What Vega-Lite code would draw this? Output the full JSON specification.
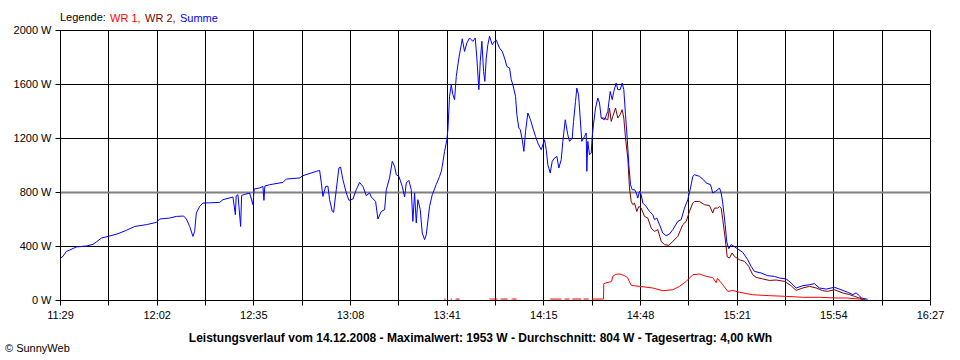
{
 "$schema": "https://vega.github.io/schema/vega-lite/v6.json",
 "width": 870, "height": 270,
 "autosize": {"type": "none"},
 "padding": {"left": 60, "top": 30, "right": 30, "bottom": 60},
 "background": "white",
 "config": {"view": {"stroke": "black", "strokeWidth": 1}, "font": "Liberation Sans"},
 "title": {"text": "© SunnyWeb", "orient": "bottom", "anchor": "start", "frame": "group", "dx": -55, "offset": 0, "fontSize": 11, "fontWeight": "normal", "color": "black", "font": "Liberation Sans"},
 "datasets": {
  "summe": [
   {"t":"2008-12-14T11:29:14","w":311},{"t":"2008-12-14T11:30:02","w":324},{"t":"2008-12-14T11:31:11","w":360},{"t":"2008-12-14T11:32:19","w":370},
   {"t":"2008-12-14T11:34:37","w":393},{"t":"2008-12-14T11:38:02","w":400},{"t":"2008-12-14T11:40:18","w":412},{"t":"2008-12-14T11:41:28","w":430},
   {"t":"2008-12-14T11:43:11","w":459},{"t":"2008-12-14T11:45:26","w":471},{"t":"2008-12-14T11:48:52","w":491},{"t":"2008-12-14T11:51:44","w":516},
   {"t":"2008-12-14T11:54:35","w":545},{"t":"2008-12-14T11:58:35","w":558},{"t":"2008-12-14T12:02:01","w":575},{"t":"2008-12-14T12:03:08","w":600},
   {"t":"2008-12-14T12:06:34","w":607},{"t":"2008-12-14T12:08:51","w":619},{"t":"2008-12-14T12:11:21","w":622},{"t":"2008-12-14T12:12:17","w":600},
   {"t":"2008-12-14T12:13:25","w":545},{"t":"2008-12-14T12:14:32","w":471},{"t":"2008-12-14T12:15:07","w":508},{"t":"2008-12-14T12:15:42","w":644},
   {"t":"2008-12-14T12:16:50","w":693},{"t":"2008-12-14T12:17:58","w":718},{"t":"2008-12-14T12:20:15","w":720},{"t":"2008-12-14T12:23:41","w":723},
   {"t":"2008-12-14T12:24:49","w":743},{"t":"2008-12-14T12:28:14","w":763},{"t":"2008-12-14T12:29:04","w":632},{"t":"2008-12-14T12:29:20","w":770},
   {"t":"2008-12-14T12:29:57","w":780},{"t":"2008-12-14T12:30:52","w":545},{"t":"2008-12-14T12:31:13","w":775},{"t":"2008-12-14T12:32:14","w":782},
   {"t":"2008-12-14T12:33:58","w":792},{"t":"2008-12-14T12:35:05","w":706},{"t":"2008-12-14T12:35:30","w":822},{"t":"2008-12-14T12:37:23","w":830},
   {"t":"2008-12-14T12:38:31","w":841},{"t":"2008-12-14T12:38:51","w":738},{"t":"2008-12-14T12:39:11","w":845},{"t":"2008-12-14T12:40:48","w":854},
   {"t":"2008-12-14T12:45:22","w":871},{"t":"2008-12-14T12:46:31","w":896},{"t":"2008-12-14T12:51:05","w":904},{"t":"2008-12-14T12:52:13","w":921},
   {"t":"2008-12-14T12:56:47","w":953},{"t":"2008-12-14T12:57:56","w":960},{"t":"2008-12-14T12:58:31","w":867},{"t":"2008-12-14T12:59:03","w":767},
   {"t":"2008-12-14T12:59:59","w":841},{"t":"2008-12-14T13:00:46","w":843},{"t":"2008-12-14T13:01:21","w":743},{"t":"2008-12-14T13:02:16","w":656},
   {"t":"2008-12-14T13:02:43","w":649},{"t":"2008-12-14T13:03:38","w":817},{"t":"2008-12-14T13:04:32","w":978},{"t":"2008-12-14T13:05:07","w":985},
   {"t":"2008-12-14T13:05:54","w":891},{"t":"2008-12-14T13:07:04","w":793},{"t":"2008-12-14T13:07:58","w":738},{"t":"2008-12-14T13:09:20","w":748},
   {"t":"2008-12-14T13:10:29","w":817},{"t":"2008-12-14T13:11:37","w":871},{"t":"2008-12-14T13:12:45","w":841},{"t":"2008-12-14T13:13:55","w":773},
   {"t":"2008-12-14T13:15:02","w":793},{"t":"2008-12-14T13:15:38","w":763},{"t":"2008-12-14T13:17:06","w":730},{"t":"2008-12-14T13:17:53","w":600},
   {"t":"2008-12-14T13:19:03","w":656},{"t":"2008-12-14T13:20:11","w":669},{"t":"2008-12-14T13:20:46","w":817},{"t":"2008-12-14T13:21:53","w":904},
   {"t":"2008-12-14T13:22:49","w":1027},{"t":"2008-12-14T13:23:37","w":990},{"t":"2008-12-14T13:24:11","w":928},{"t":"2008-12-14T13:25:05","w":916},
   {"t":"2008-12-14T13:26:14","w":841},{"t":"2008-12-14T13:27:02","w":763},{"t":"2008-12-14T13:27:37","w":867},{"t":"2008-12-14T13:28:30","w":886},
   {"t":"2008-12-14T13:29:19","w":817},{"t":"2008-12-14T13:29:52","w":582},{"t":"2008-12-14T13:30:27","w":793},{"t":"2008-12-14T13:31:02","w":570},
   {"t":"2008-12-14T13:31:35","w":743},{"t":"2008-12-14T13:32:24","w":669},{"t":"2008-12-14T13:33:05","w":496},{"t":"2008-12-14T13:33:53","w":447},
   {"t":"2008-12-14T13:34:28","w":484},{"t":"2008-12-14T13:35:35","w":693},{"t":"2008-12-14T13:36:31","w":780},{"t":"2008-12-14T13:37:53","w":856},
   {"t":"2008-12-14T13:39:01","w":916},{"t":"2008-12-14T13:39:36","w":953},{"t":"2008-12-14T13:39:56","w":990},{"t":"2008-12-14T13:40:44","w":1101},
   {"t":"2008-12-14T13:41:31","w":1187},{"t":"2008-12-14T13:41:52","w":1261},{"t":"2008-12-14T13:42:26","w":1508},{"t":"2008-12-14T13:43:01","w":1595},
   {"t":"2008-12-14T13:43:34","w":1521},{"t":"2008-12-14T13:44:09","w":1484},{"t":"2008-12-14T13:44:44","w":1656},{"t":"2008-12-14T13:45:37","w":1792},
   {"t":"2008-12-14T13:46:27","w":1891},{"t":"2008-12-14T13:46:47","w":1935},{"t":"2008-12-14T13:47:34","w":1841},{"t":"2008-12-14T13:48:22","w":1904},
   {"t":"2008-12-14T13:49:17","w":1941},{"t":"2008-12-14T13:50:25","w":1916},{"t":"2008-12-14T13:51:14","w":1941},{"t":"2008-12-14T13:51:47","w":1792},
   {"t":"2008-12-14T13:52:28","w":1558},{"t":"2008-12-14T13:52:57","w":1767},{"t":"2008-12-14T13:53:30","w":1916},{"t":"2008-12-14T13:54:05","w":1693},
   {"t":"2008-12-14T13:54:31","w":1619},{"t":"2008-12-14T13:55:00","w":1792},{"t":"2008-12-14T13:55:33","w":1891},{"t":"2008-12-14T13:56:08","w":1953},
   {"t":"2008-12-14T13:57:04","w":1891},{"t":"2008-12-14T13:57:51","w":1916},{"t":"2008-12-14T13:58:26","w":1925},{"t":"2008-12-14T13:59:34","w":1866},
   {"t":"2008-12-14T14:00:29","w":1841},{"t":"2008-12-14T14:01:16","w":1792},{"t":"2008-12-14T14:02:04","w":1730},{"t":"2008-12-14T14:02:59","w":1718},
   {"t":"2008-12-14T14:03:34","w":1632},{"t":"2008-12-14T14:04:07","w":1595},{"t":"2008-12-14T14:05:02","w":1508},{"t":"2008-12-14T14:05:29","w":1373},
   {"t":"2008-12-14T14:06:10","w":1274},{"t":"2008-12-14T14:06:39","w":1261},{"t":"2008-12-14T14:07:20","w":1187},{"t":"2008-12-14T14:07:53","w":1101},
   {"t":"2008-12-14T14:08:28","w":1249},{"t":"2008-12-14T14:09:15","w":1385},{"t":"2008-12-14T14:10:10","w":1335},{"t":"2008-12-14T14:10:58","w":1274},
   {"t":"2008-12-14T14:11:53","w":1212},{"t":"2008-12-14T14:12:40","w":1163},{"t":"2008-12-14T14:13:50","w":1113},{"t":"2008-12-14T14:14:58","w":1187},
   {"t":"2008-12-14T14:15:33","w":1113},{"t":"2008-12-14T14:16:06","w":1002},{"t":"2008-12-14T14:16:55","w":941},{"t":"2008-12-14T14:17:36","w":1027},
   {"t":"2008-12-14T14:18:23","w":1052},{"t":"2008-12-14T14:19:11","w":1064},{"t":"2008-12-14T14:19:52","w":978},{"t":"2008-12-14T14:20:41","w":1039},
   {"t":"2008-12-14T14:21:14","w":1175},{"t":"2008-12-14T14:22:04","w":1335},{"t":"2008-12-14T14:22:56","w":1224},{"t":"2008-12-14T14:23:32","w":1175},
   {"t":"2008-12-14T14:24:27","w":1200},{"t":"2008-12-14T14:24:54","w":1323},{"t":"2008-12-14T14:25:35","w":1471},{"t":"2008-12-14T14:26:02","w":1570},
   {"t":"2008-12-14T14:26:37","w":1521},{"t":"2008-12-14T14:27:11","w":1348},{"t":"2008-12-14T14:27:44","w":1175},{"t":"2008-12-14T14:28:40","w":1212},
   {"t":"2008-12-14T14:29:14","w":1237},{"t":"2008-12-14T14:29:27","w":953},{"t":"2008-12-14T14:29:47","w":1175},{"t":"2008-12-14T14:30:22","w":1076},
   {"t":"2008-12-14T14:30:58","w":1089},{"t":"2008-12-14T14:31:18","w":1212},{"t":"2008-12-14T14:31:44","w":1298},{"t":"2008-12-14T14:32:26","w":1422},
   {"t":"2008-12-14T14:33:13","w":1496},{"t":"2008-12-14T14:33:48","w":1459},{"t":"2008-12-14T14:34:23","w":1348},{"t":"2008-12-14T14:35:31","w":1335},
   {"t":"2008-12-14T14:36:38","w":1397},{"t":"2008-12-14T14:37:28","w":1545},{"t":"2008-12-14T14:38:09","w":1484},{"t":"2008-12-14T14:38:42","w":1545},
   {"t":"2008-12-14T14:39:31","w":1607},{"t":"2008-12-14T14:40:04","w":1558},{"t":"2008-12-14T14:40:53","w":1558},{"t":"2008-12-14T14:41:34","w":1607},
   {"t":"2008-12-14T14:42:07","w":1558},{"t":"2008-12-14T14:42:42","w":1373},{"t":"2008-12-14T14:43:17","w":1200},{"t":"2008-12-14T14:43:50","w":1002},
   {"t":"2008-12-14T14:44:25","w":854},{"t":"2008-12-14T14:45:00","w":817},{"t":"2008-12-14T14:45:47","w":817},{"t":"2008-12-14T14:46:22","w":795},
   {"t":"2008-12-14T14:46:55","w":755},{"t":"2008-12-14T14:47:30","w":804},{"t":"2008-12-14T14:48:05","w":780},{"t":"2008-12-14T14:48:38","w":718},
   {"t":"2008-12-14T14:49:47","w":693},{"t":"2008-12-14T14:50:55","w":656},{"t":"2008-12-14T14:52:03","w":632},{"t":"2008-12-14T14:52:38","w":595},
   {"t":"2008-12-14T14:53:25","w":607},{"t":"2008-12-14T14:54:21","w":558},{"t":"2008-12-14T14:55:28","w":496},{"t":"2008-12-14T14:56:38","w":476},
   {"t":"2008-12-14T14:57:46","w":489},{"t":"2008-12-14T14:58:54","w":521},{"t":"2008-12-14T15:00:37","w":582},{"t":"2008-12-14T15:01:46","w":595},
   {"t":"2008-12-14T15:02:54","w":681},{"t":"2008-12-14T15:04:02","w":743},{"t":"2008-12-14T15:04:58","w":830},{"t":"2008-12-14T15:05:45","w":916},
   {"t":"2008-12-14T15:06:20","w":928},{"t":"2008-12-14T15:08:02","w":916},{"t":"2008-12-14T15:09:25","w":891},{"t":"2008-12-14T15:10:20","w":867},
   {"t":"2008-12-14T15:11:49","w":854},{"t":"2008-12-14T15:12:35","w":793},{"t":"2008-12-14T15:13:31","w":804},{"t":"2008-12-14T15:14:19","w":817},
   {"t":"2008-12-14T15:14:53","w":830},{"t":"2008-12-14T15:15:28","w":793},{"t":"2008-12-14T15:16:01","w":718},{"t":"2008-12-14T15:16:50","w":560},
   {"t":"2008-12-14T15:17:23","w":430},{"t":"2008-12-14T15:18:04","w":380},{"t":"2008-12-14T15:18:53","w":410},{"t":"2008-12-14T15:19:41","w":400},
   {"t":"2008-12-14T15:21:09","w":378},{"t":"2008-12-14T15:22:52","w":353},{"t":"2008-12-14T15:24:35","w":298},{"t":"2008-12-14T15:25:44","w":249},
   {"t":"2008-12-14T15:26:52","w":212},{"t":"2008-12-14T15:29:10","w":200},{"t":"2008-12-14T15:31:26","w":180},{"t":"2008-12-14T15:33:43","w":175},
   {"t":"2008-12-14T15:35:26","w":163},{"t":"2008-12-14T15:37:44","w":156},{"t":"2008-12-14T15:39:26","w":126},{"t":"2008-12-14T15:41:09","w":89},
   {"t":"2008-12-14T15:43:25","w":106},{"t":"2008-12-14T15:45:43","w":113},{"t":"2008-12-14T15:47:25","w":121},{"t":"2008-12-14T15:49:08","w":89},
   {"t":"2008-12-14T15:51:25","w":81},{"t":"2008-12-14T15:54:16","w":94},{"t":"2008-12-14T15:56:34","w":76},{"t":"2008-12-14T15:58:49","w":57},
   {"t":"2008-12-14T16:00:32","w":40},{"t":"2008-12-14T16:01:42","w":52},{"t":"2008-12-14T16:02:49","w":32},{"t":"2008-12-14T16:03:25","w":15},
   {"t":"2008-12-14T16:05:40","w":5}
  ],
  "wr2": [
   {"t":"2008-12-14T14:34:23","w":1348},{"t":"2008-12-14T14:35:16","w":1348},{"t":"2008-12-14T14:36:38","w":1335},{"t":"2008-12-14T14:37:13","w":1422},
   {"t":"2008-12-14T14:37:49","w":1323},{"t":"2008-12-14T14:38:21","w":1360},{"t":"2008-12-14T14:39:17","w":1422},{"t":"2008-12-14T14:40:04","w":1348},
   {"t":"2008-12-14T14:40:53","w":1373},{"t":"2008-12-14T14:41:34","w":1410},{"t":"2008-12-14T14:42:07","w":1348},{"t":"2008-12-14T14:42:42","w":1200},
   {"t":"2008-12-14T14:43:29","w":1052},{"t":"2008-12-14T14:44:04","w":830},{"t":"2008-12-14T14:44:39","w":730},{"t":"2008-12-14T14:45:12","w":706},
   {"t":"2008-12-14T14:45:47","w":718},{"t":"2008-12-14T14:46:34","w":656},{"t":"2008-12-14T14:47:16","w":693},{"t":"2008-12-14T14:48:05","w":681},
   {"t":"2008-12-14T14:49:13","w":619},{"t":"2008-12-14T14:50:20","w":607},{"t":"2008-12-14T14:51:30","w":533},{"t":"2008-12-14T14:52:38","w":508},
   {"t":"2008-12-14T14:53:46","w":521},{"t":"2008-12-14T14:54:56","w":434},{"t":"2008-12-14T14:56:04","w":410},{"t":"2008-12-14T14:57:32","w":405},
   {"t":"2008-12-14T14:58:54","w":434},{"t":"2008-12-14T15:00:37","w":471},{"t":"2008-12-14T15:02:19","w":558},{"t":"2008-12-14T15:03:29","w":582},
   {"t":"2008-12-14T15:04:37","w":656},{"t":"2008-12-14T15:05:45","w":718},{"t":"2008-12-14T15:06:20","w":730},{"t":"2008-12-14T15:08:02","w":730},
   {"t":"2008-12-14T15:09:45","w":706},{"t":"2008-12-14T15:11:28","w":700},{"t":"2008-12-14T15:12:35","w":644},{"t":"2008-12-14T15:13:11","w":681},
   {"t":"2008-12-14T15:14:19","w":681},{"t":"2008-12-14T15:14:53","w":693},{"t":"2008-12-14T15:15:28","w":681},{"t":"2008-12-14T15:16:01","w":595},
   {"t":"2008-12-14T15:16:50","w":459},{"t":"2008-12-14T15:17:32","w":320},{"t":"2008-12-14T15:18:19","w":311},{"t":"2008-12-14T15:19:14","w":348},
   {"t":"2008-12-14T15:20:01","w":323},{"t":"2008-12-14T15:21:44","w":298},{"t":"2008-12-14T15:23:27","w":286},{"t":"2008-12-14T15:24:55","w":249},
   {"t":"2008-12-14T15:26:17","w":187},{"t":"2008-12-14T15:27:28","w":167},{"t":"2008-12-14T15:29:43","w":156},{"t":"2008-12-14T15:32:01","w":145},
   {"t":"2008-12-14T15:34:18","w":148},{"t":"2008-12-14T15:37:09","w":138},{"t":"2008-12-14T15:39:26","w":106},{"t":"2008-12-14T15:41:09","w":71},
   {"t":"2008-12-14T15:43:25","w":89},{"t":"2008-12-14T15:45:43","w":101},{"t":"2008-12-14T15:48:00","w":89},{"t":"2008-12-14T15:50:16","w":69},
   {"t":"2008-12-14T15:51:58","w":64},{"t":"2008-12-14T15:54:16","w":76},{"t":"2008-12-14T15:57:07","w":52},{"t":"2008-12-14T15:59:24","w":40},
   {"t":"2008-12-14T16:01:07","w":27},{"t":"2008-12-14T16:02:49","w":15},{"t":"2008-12-14T16:03:57","w":5}
  ],
  "wr1": [
   {"t":"2008-12-14T13:40:33","w":7},{"t":"2008-12-14T13:41:04","w":7},{"t":"2008-12-14T13:41:45","w":null},
   {"t":"2008-12-14T13:42:47","w":7},{"t":"2008-12-14T13:43:17","w":7},{"t":"2008-12-14T13:43:49","w":null},
   {"t":"2008-12-14T13:44:29","w":7},{"t":"2008-12-14T13:45:52","w":7},{"t":"2008-12-14T13:51:00","w":null},
   {"t":"2008-12-14T13:56:08","w":7},{"t":"2008-12-14T13:58:52","w":7},{"t":"2008-12-14T13:59:23","w":null},
   {"t":"2008-12-14T13:59:54","w":7},{"t":"2008-12-14T14:02:18","w":7},{"t":"2008-12-14T14:02:59","w":null},
   {"t":"2008-12-14T14:03:40","w":7},{"t":"2008-12-14T14:05:23","w":7},{"t":"2008-12-14T14:09:50","w":null},
   {"t":"2008-12-14T14:16:55","w":7},{"t":"2008-12-14T14:20:41","w":7},{"t":"2008-12-14T14:21:08","w":null},
   {"t":"2008-12-14T14:21:49","w":7},{"t":"2008-12-14T14:23:32","w":7},{"t":"2008-12-14T14:24:02","w":null},
   {"t":"2008-12-14T14:24:27","w":7},{"t":"2008-12-14T14:27:32","w":7},{"t":"2008-12-14T14:27:59","w":null},
   {"t":"2008-12-14T14:28:19","w":7},{"t":"2008-12-14T14:30:02","w":7},{"t":"2008-12-14T14:30:43","w":null},
   {"t":"2008-12-14T14:31:18","w":7},{"t":"2008-12-14T14:35:10","w":7},{"t":"2008-12-14T14:35:16","w":121},
   {"t":"2008-12-14T14:35:52","w":126},{"t":"2008-12-14T14:37:13","w":133},{"t":"2008-12-14T14:37:55","w":137},{"t":"2008-12-14T14:38:21","w":175},
   {"t":"2008-12-14T14:39:17","w":190},{"t":"2008-12-14T14:40:39","w":193},{"t":"2008-12-14T14:42:22","w":180},{"t":"2008-12-14T14:43:23","w":166},
   {"t":"2008-12-14T14:44:39","w":108},{"t":"2008-12-14T14:47:30","w":101},{"t":"2008-12-14T14:52:03","w":89},{"t":"2008-12-14T14:55:28","w":69},
   {"t":"2008-12-14T14:58:54","w":76},{"t":"2008-12-14T15:01:11","w":101},{"t":"2008-12-14T15:03:29","w":138},{"t":"2008-12-14T15:05:45","w":187},
   {"t":"2008-12-14T15:08:02","w":193},{"t":"2008-12-14T15:10:20","w":175},{"t":"2008-12-14T15:12:35","w":166},{"t":"2008-12-14T15:13:46","w":128},
   {"t":"2008-12-14T15:14:12","w":160},{"t":"2008-12-14T15:16:01","w":113},{"t":"2008-12-14T15:17:44","w":64},{"t":"2008-12-14T15:19:26","w":71},
   {"t":"2008-12-14T15:21:44","w":57},{"t":"2008-12-14T15:26:17","w":39},{"t":"2008-12-14T15:32:01","w":32},{"t":"2008-12-14T15:37:44","w":27},
   {"t":"2008-12-14T15:43:25","w":20},{"t":"2008-12-14T15:49:08","w":20},{"t":"2008-12-14T15:54:51","w":15},{"t":"2008-12-14T15:58:16","w":15},
   {"t":"2008-12-14T16:02:49","w":7},{"t":"2008-12-14T16:04:53","w":3}
  ]
 },
 "encoding": {
  "x": {"field": "t", "type": "temporal",
   "scale": {"domain": [{"year":2008,"month":12,"date":14,"hours":11,"minutes":29,"seconds":0},{"year":2008,"month":12,"date":14,"hours":16,"minutes":27,"seconds":0}], "nice": false},
   "axis": {
    "values": [
     {"year":2008,"month":12,"date":14,"hours":11,"minutes":29,"seconds":0},
     {"year":2008,"month":12,"date":14,"hours":11,"minutes":45,"seconds":33},
     {"year":2008,"month":12,"date":14,"hours":12,"minutes":2,"seconds":7},
     {"year":2008,"month":12,"date":14,"hours":12,"minutes":18,"seconds":40},
     {"year":2008,"month":12,"date":14,"hours":12,"minutes":35,"seconds":13},
     {"year":2008,"month":12,"date":14,"hours":12,"minutes":51,"seconds":47},
     {"year":2008,"month":12,"date":14,"hours":13,"minutes":8,"seconds":20},
     {"year":2008,"month":12,"date":14,"hours":13,"minutes":24,"seconds":53},
     {"year":2008,"month":12,"date":14,"hours":13,"minutes":41,"seconds":27},
     {"year":2008,"month":12,"date":14,"hours":13,"minutes":58,"seconds":0},
     {"year":2008,"month":12,"date":14,"hours":14,"minutes":14,"seconds":33},
     {"year":2008,"month":12,"date":14,"hours":14,"minutes":31,"seconds":7},
     {"year":2008,"month":12,"date":14,"hours":14,"minutes":47,"seconds":40},
     {"year":2008,"month":12,"date":14,"hours":15,"minutes":4,"seconds":13},
     {"year":2008,"month":12,"date":14,"hours":15,"minutes":20,"seconds":47},
     {"year":2008,"month":12,"date":14,"hours":15,"minutes":37,"seconds":20},
     {"year":2008,"month":12,"date":14,"hours":15,"minutes":53,"seconds":53},
     {"year":2008,"month":12,"date":14,"hours":16,"minutes":10,"seconds":27},
     {"year":2008,"month":12,"date":14,"hours":16,"minutes":27,"seconds":0}
    ],
    "labelExpr": "(round((time(datum.value) - time(datetime(2008,11,14,11,29,0))) / 993333.33) % 2 == 0) ? timeFormat(time(datum.value) + 30000, '%H:%M') : ''",
    "grid": true, "gridColor": "black", "gridWidth": 1, "gridOpacity": 1,
    "domainColor": "black", "tickColor": "black", "tickSize": 5, "tickWidth": 1,
    "labelColor": "black", "labelFontSize": 11, "labelFont": "Liberation Sans", "labelPadding": 4,
    "labelFlush": false, "labelOverlap": false,
    "title": "Leistungsverlauf vom 14.12.2008 - Maximalwert: 1953 W - Durchschnitt: 804 W - Tagesertrag: 4,00 kWh",
    "titleFont": "Liberation Sans", "titleFontSize": 12, "titleFontWeight": "bold", "titleColor": "black",
    "titleX": 420, "titleY": 41, "titleAlign": "center", "titleBaseline": "alphabetic"
   }
  },
  "y": {"field": "w", "type": "quantitative",
   "scale": {"domain": [0, 2000], "nice": false, "zero": true},
   "axis": {
    "values": [0, 400, 800, 1200, 1600, 2000],
    "labelExpr": "datum.value + ' W'",
    "grid": true,
    "gridColor": {"condition": {"test": "datum.value === 800", "value": "#808080"}, "value": "black"},
    "gridWidth": {"condition": {"test": "datum.value === 800", "value": 2}, "value": 1},
    "gridOpacity": 1,
    "domainColor": "black", "tickColor": "black", "tickSize": 5, "tickWidth": 1,
    "labelColor": "black", "labelFontSize": 11, "labelFont": "Liberation Sans", "labelPadding": 4,
    "labelOverlap": false, "title": null
   }
  }
 },
 "layer": [
  {"data": {"name": "wr1"},
   "mark": {"type": "line", "strokeWidth": 1, "invalid": "break-paths-show-domains"},
   "encoding": {"color": {"datum": "WR 1", "type": "nominal",
     "scale": {"domain": ["WR 1", "WR 2", "Summe"], "range": ["#ff0000", "#800000", "#0000ff"]},
     "legend": {"orient": "top", "direction": "horizontal", "title": "Legende:", "titleOrient": "left",
      "titleFont": "Liberation Sans", "titleFontSize": 11, "titleFontWeight": "normal", "titleColor": "black", "titlePadding": 3,
      "labelFont": "Liberation Sans", "labelFontSize": 11, "labelOffset": -10, "columnPadding": 3,
      "symbolSize": 0, "symbolStrokeWidth": 0, "symbolOpacity": 0,
      "offset": 6, "padding": 0,
      "labelExpr": "datum.label == 'Summe' ? datum.label : datum.label + ','",
      "encode": {"labels": {"update": {"fill": {"scale": "color", "field": "value"}}}}}}}},
  {"data": {"name": "wr2"},
   "mark": {"type": "line", "strokeWidth": 1},
   "encoding": {"color": {"datum": "WR 2", "type": "nominal"}}},
  {"data": {"name": "summe"},
   "mark": {"type": "line", "strokeWidth": 1},
   "encoding": {"color": {"datum": "Summe", "type": "nominal"}}}
 ]
}
